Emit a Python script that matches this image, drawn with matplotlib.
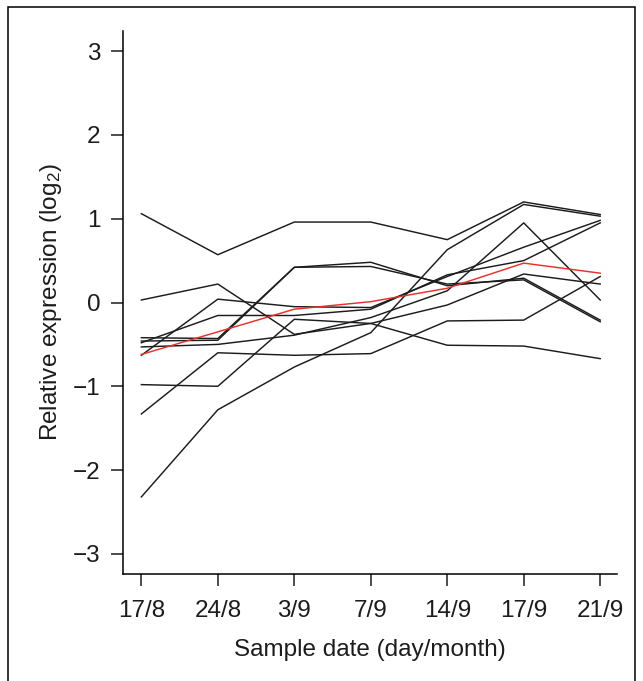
import numpy as np
import matplotlib
matplotlib.use("Agg")
import matplotlib.pyplot as plt
from matplotlib.patches import Rectangle

plt.rcParams['font.family'] = ['Liberation Sans', 'DejaVu Sans']
plt.rcParams['mathtext.default'] = 'regular'

# Sample dates (x axis)
dates = ['17/8', '24/8', '3/9', '7/9', '14/9', '17/9', '21/9']

# Relative expression of each gene (log2)
gene1 = [1.06, 0.57, 0.96, 0.96, 0.75, 1.20, 1.05]
gene2 = [0.03, 0.22, -0.38, -0.25, -0.03, 0.34, 0.22]
gene3 = [-0.42, -0.43, 0.42, 0.48, 0.20, 0.29, -0.21]
gene4 = [-0.46, -0.45, 0.42, 0.43, 0.22, 0.27, -0.23]
gene5 = [-0.48, -0.155, -0.155, -0.08, 0.33, 0.50, 0.95]
gene6 = [-0.53, -0.50, -0.39, -0.18, 0.14, 0.95, 0.03]
gene7 = [-0.63, 0.04, -0.05, -0.06, 0.31, 0.66, 0.98]
gene8 = [-0.98, -1.00, -0.20, -0.25, -0.51, -0.52, -0.67]
gene9 = [-1.33, -0.60, -0.63, -0.61, -0.22, -0.21, 0.31]
gene10 = [-2.32, -1.28, -0.77, -0.36, 0.63, 1.17, 1.03]

# highlighted profile (red)
red_gene = [-0.62, -0.35, -0.08, 0.01, 0.17, 0.47, 0.35]

black_genes = [gene1, gene2, gene3, gene4, gene5, gene6, gene7, gene8, gene9, gene10]

yticks = [-3, -2, -1, 0, 1, 2, 3]
ytick_labels = ['\u22123', '\u22122', '\u22121', '0', '1', '2', '3']

fig = plt.figure(figsize=(6.43, 6.81), dpi=100)
ax = fig.add_axes([0.1913, 0.1571, 0.7683, 0.7974])

x = np.arange(len(dates))
for g in black_genes:
    ax.plot(x, g, color='#1c1c1c', lw=1.05)
ax.plot(x, red_gene, color='#e8302a', lw=1.05)

ax.set_xlim(-0.24, 6.22)
ax.set_ylim(-3.24, 3.24)

ax.set_xticks(x)
ax.set_xticklabels(dates)
ax.set_yticks(yticks)
ax.set_yticklabels(ytick_labels)

# R style "L" box
ax.spines['top'].set_visible(False)
ax.spines['right'].set_visible(False)
ax.spines['left'].set_linewidth(1.1)
ax.spines['bottom'].set_linewidth(1.1)
ax.tick_params(axis='both', direction='out', length=8.6, width=1.1,
               labelsize=17.5, colors='#1c1c1c', pad=7.5)
ax.tick_params(axis='x', pad=10)

ax.set_xlabel('Sample date (day/month)', fontsize=17.5, labelpad=12, color='#1c1c1c')
ax.set_ylabel('Relative expression (log$_2$)', fontsize=17.5, labelpad=6.5, color='#1c1c1c')

# frame round the whole panel (open at the bottom edge)
border = Rectangle((8 / 643, -0.02), (635 - 8) / 643, 1 - 7.4 / 681 + 0.02,
                   transform=fig.transFigure, fill=False, edgecolor='black', lw=1.1)
fig.add_artist(border)

fig.savefig('out.png', dpi=100)
